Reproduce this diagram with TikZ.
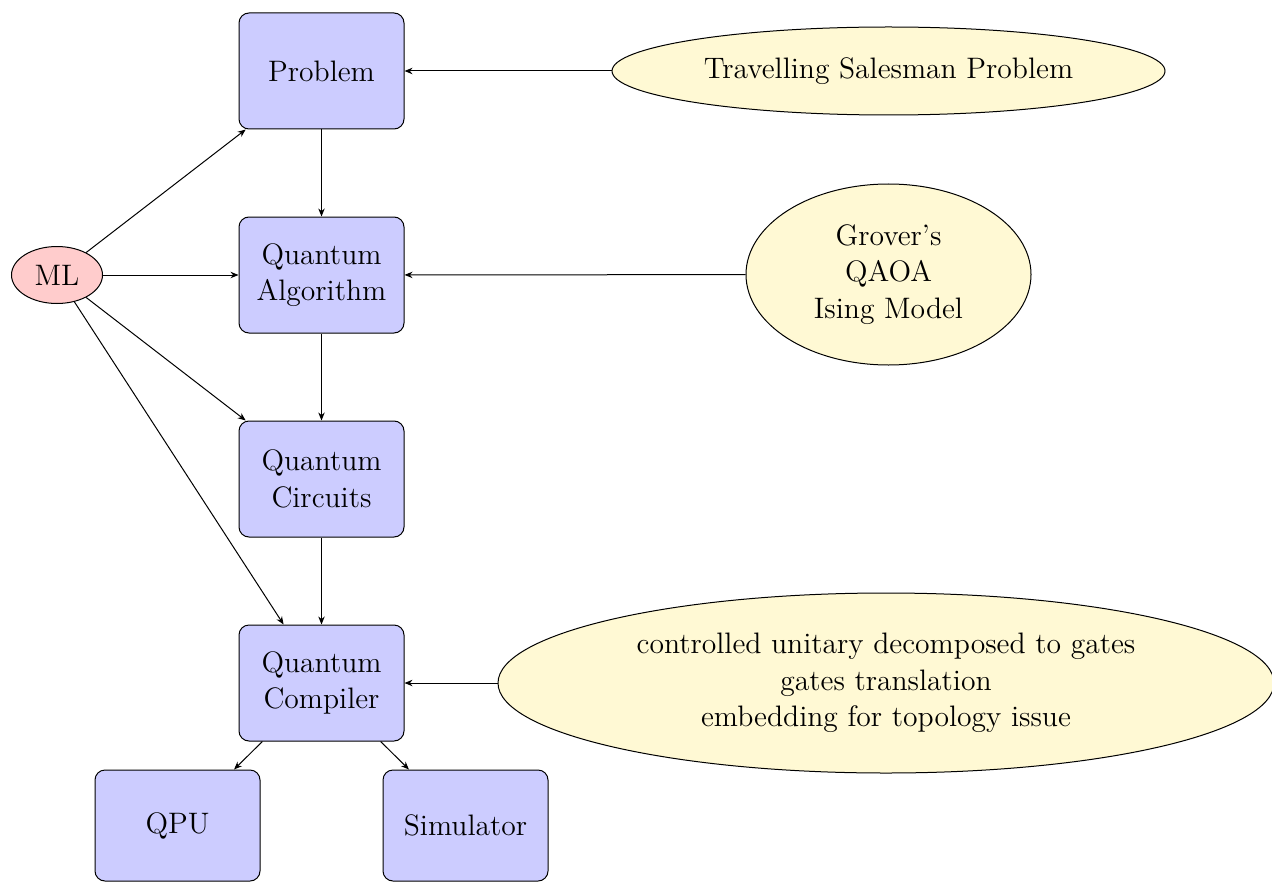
\documentclass[tikz,border=0pt]{standalone}
\usetikzlibrary{shapes.geometric,arrows.meta}
\definecolor{infofill}{RGB}{255,249,212}
\begin{document}
\begin{tikzpicture}[x=0.5pt,y=-0.5pt,
  every node/.style={font=\fontsize{14.8}{18.2}\selectfont},
  box/.style={draw,line width=0.5pt,rounded corners=5pt,fill=blue!20,
    minimum width=82.5pt,minimum height=58pt,align=center,inner sep=0pt},
  lowbox/.style={box,minimum height=55.5pt},
  info/.style={draw,line width=0.5pt,ellipse,fill=infofill,align=center,inner sep=0pt},
  mlnode/.style={draw,line width=0.5pt,ellipse,fill=red!20,inner sep=0pt,
    minimum width=45.5pt,minimum height=28.5pt},
  arr/.style={line width=0.5pt,-{Stealth[length=4pt,width=3.2pt,inset=1.3pt]}}]
\useasboundingbox (0,0) rectangle (1272,882);

\node[box] (prob) at (321.5,71) {Problem};
\node[box] (alg)  at (321.5,275) {Quantum\\Algorithm};
\node[box] (circ) at (321.5,479) {Quantum\\Circuits};
\node[box] (comp) at (321.5,683) {Quantum\\Compiler};
\node[lowbox] (qpu) at (177.5,825.5) {QPU};
\node[lowbox] (sim) at (465.5,825.5) {Simulator};

\node[mlnode] (ml) at (57,275) {ML};

\node[info,minimum width=276.5pt,minimum height=44pt] (tsp) at (888.5,71) {Travelling Salesman Problem};
\node[info,minimum width=142.5pt,minimum height=90.5pt] (alg2) at (888.5,274.5) {Grover's\\QAOA\\Ising Model};
\node[info,minimum width=388pt,minimum height=90pt] (comp2) at (886,683) {controlled unitary decomposed to gates\\gates translation\\embedding for topology issue};

\draw[arr] (tsp) -- (prob);
\draw[arr] (alg2) -- (alg);
\draw[arr] (comp2) -- (comp);

\draw[arr] (prob) -- (alg);
\draw[arr] (alg) -- (circ);
\draw[arr] (circ) -- (comp);
\draw[arr] (comp) -- (qpu);
\draw[arr] (comp) -- (sim);

\draw[arr] (ml) -- (prob);
\draw[arr] (ml) -- (alg);
\draw[arr] (ml) -- (circ);
\draw[arr] (ml) -- (comp);
\end{tikzpicture}
\end{document}
